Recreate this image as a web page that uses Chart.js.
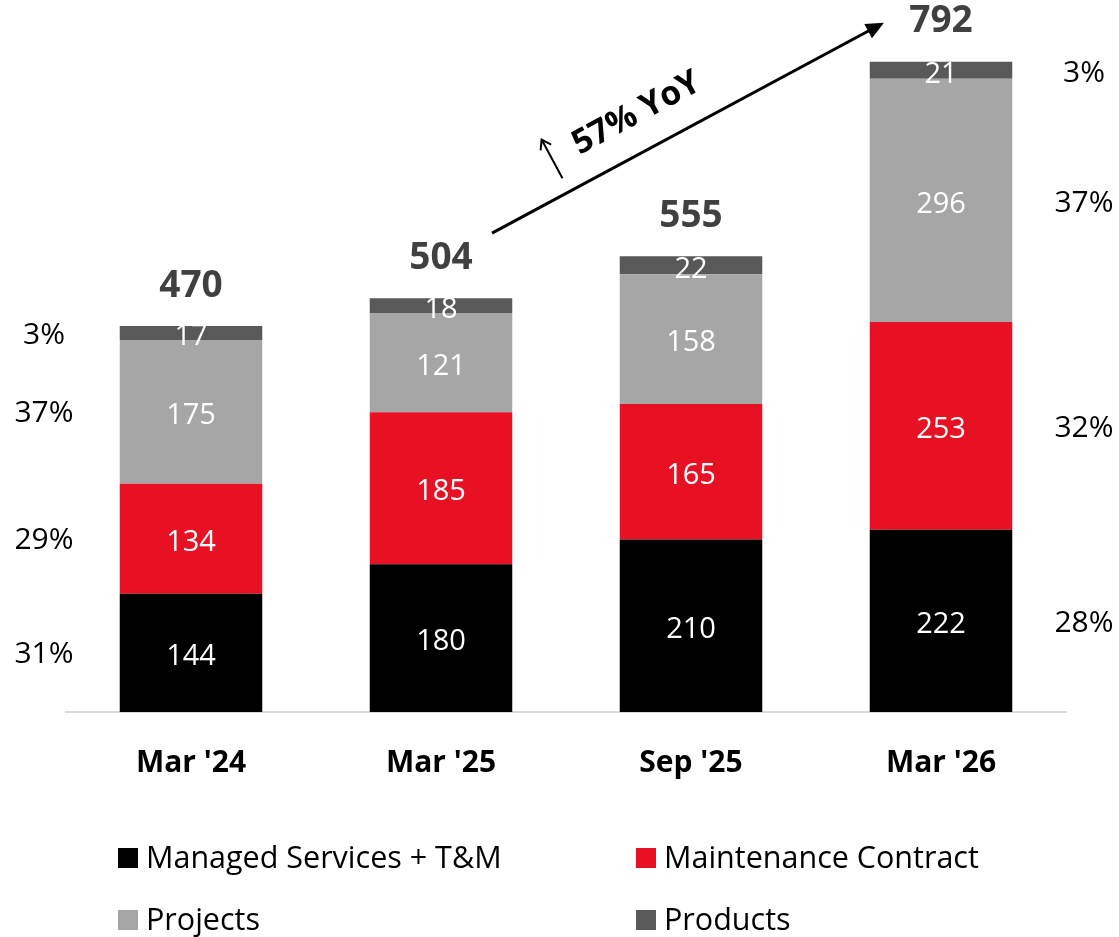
<!DOCTYPE html>
<html><head><meta charset="utf-8">
<script src="https://cdn.jsdelivr.net/npm/chart.js@4.4.0/dist/chart.umd.min.js"></script>
<style>html,body{margin:0;padding:0;background:#fff}#wrap{width:1119px;height:937px;position:relative}</style>
</head><body><div id="wrap"><canvas id="c"></canvas></div>
<script>
const categories = ["Mar '24", "Mar '25", "Sep '25", "Mar '26"];
const managedServices = [144, 180, 210, 222];
const maintenanceContract = [134, 185, 165, 253];
const projects = [175, 121, 158, 296];
const products = [17, 18, 22, 21];
const seriesNames = ['Managed Services + T&M', 'Maintenance Contract', 'Projects', 'Products'];
const seriesColors = ['#000000', '#E81123', '#A6A6A6', '#595959'];
const firstShareLabels = ['31%', '29%', '37%', '3%'];
const lastShareLabels = ['28%', '32%', '37%', '3%'];
const growthLabel = '57% YoY';

const FONT = "'Open Sans', sans-serif";
const seriesValues = [managedServices, maintenanceContract, projects, products];

const labelsPlugin = {
  id: 'labels',
  afterDatasetsDraw(chart) {
    const ctx = chart.ctx;
    const area = chart.chartArea;
    const n = chart.data.datasets.length;
    ctx.save();
    ctx.textAlign = 'center';
    ctx.textBaseline = 'middle';
    // segment values
    ctx.font = '29px ' + FONT;
    ctx.fillStyle = '#ffffff';
    for (let d = 0; d < n; d++) {
      const meta = chart.getDatasetMeta(d);
      meta.data.forEach((el, i) => {
        const v = chart.data.datasets[d].data[i];
        ctx.fillText(String(v), el.x, (el.y + el.base) / 2 + 4);
      });
    }
    // shares on the sides
    ctx.fillStyle = '#000000';
    ctx.font = '30px ' + FONT;
    const last = categories.length - 1;
    for (let d = 0; d < n; d++) {
      const meta = chart.getDatasetMeta(d);
      const e0 = meta.data[0], eL = meta.data[last];
      ctx.fillText(firstShareLabels[d], area.left - 22, (e0.y + e0.base) / 2 + 2);
      ctx.fillText(lastShareLabels[d], area.right + 18, (eL.y + eL.base) / 2 + 3);
    }
    // totals
    const topMeta = chart.getDatasetMeta(n - 1);
    ctx.font = 'bold 37px ' + FONT;
    ctx.fillStyle = '#404040';
    topMeta.data.forEach((el, i) => {
      let total = 0;
      chart.data.datasets.forEach(ds => total += ds.data[i]);
      ctx.fillText(String(total), el.x, el.y - 40);
    });
    // growth arrow
    const a = topMeta.data[1], b = topMeta.data[3];
    const sx = a.x + 51, sy = a.y - 65;
    const ex = b.x - 57, ey = b.y - 39;
    const ang = Math.atan2(ey - sy, ex - sx);
    ctx.strokeStyle = '#000';
    ctx.fillStyle = '#000';
    ctx.lineWidth = 3;
    ctx.beginPath();
    ctx.moveTo(sx, sy);
    ctx.lineTo(ex - 14 * Math.cos(ang), ey - 14 * Math.sin(ang));
    ctx.stroke();
    ctx.save();
    ctx.translate(ex, ey);
    ctx.rotate(ang);
    ctx.beginPath();
    ctx.moveTo(0, 0);
    ctx.lineTo(-18, -8);
    ctx.lineTo(-18, 8);
    ctx.closePath();
    ctx.fill();
    ctx.restore();
    // growth label (rotated frame: x along line, -y away from line)
    ctx.save();
    ctx.translate(sx, sy);
    ctx.rotate(ang);
    // small up arrow
    ctx.lineWidth = 2;
    ctx.beginPath();
    ctx.moveTo(88, -15);
    ctx.lineTo(88, -59);
    ctx.moveTo(82, -50);
    ctx.lineTo(88, -59);
    ctx.lineTo(94, -50);
    ctx.stroke();
    ctx.font = 'bold 34px ' + FONT;
    const w = ctx.measureText(growthLabel).width;
    const size = 34 * 140 / w;
    ctx.font = 'bold ' + size.toFixed(1) + 'px ' + FONT;
    ctx.fillText(growthLabel, 184, -37);
    ctx.restore();
    ctx.restore();
  },
  afterDraw(chart) {
    const ctx = chart.ctx;
    const area = chart.chartArea;
    const cols = [area.left + 52, area.left + 570];
    const rows = [858, 920];
    ctx.save();
    ctx.font = '30.5px ' + FONT;
    ctx.textAlign = 'left';
    ctx.textBaseline = 'middle';
    chart.data.datasets.forEach((ds, i) => {
      const x = cols[i % 2], y = rows[Math.floor(i / 2)];
      ctx.fillStyle = ds.backgroundColor;
      ctx.fillRect(x, y - 10, 20, 20);
      ctx.fillStyle = '#000';
      ctx.fillText(ds.label, x + 28, y + 1);
    });
    ctx.restore();
  }
};

new Chart(document.getElementById('c'), {
  type: 'bar',
  data: {
    labels: categories,
    datasets: seriesValues.map((vals, i) => ({
      label: seriesNames[i],
      data: vals,
      backgroundColor: seriesColors[i],
      borderWidth: 0,
      barPercentage: 0.57,
      categoryPercentage: 1.0
    }))
  },
  options: {
    responsive: true,
    maintainAspectRatio: false,
    animation: false,
    devicePixelRatio: 1,
    layout: { padding: { left: 66, right: 53, top: 14, bottom: 145 } },
    plugins: { legend: { display: false }, tooltip: { enabled: false } },
    scales: {
      x: {
        stacked: true,
        grid: { display: false },
        border: { display: true, color: '#D9D9D9', width: 2 },
        ticks: { color: '#000', font: { family: FONT, size: 30, weight: 'bold' }, padding: 25 },
        afterFit(scale) { scale.height = 80; }
      },
      y: {
        stacked: true,
        display: false,
        min: 0,
        max: 850
      }
    }
  },
  plugins: [labelsPlugin]
});
</script>
</body></html>
